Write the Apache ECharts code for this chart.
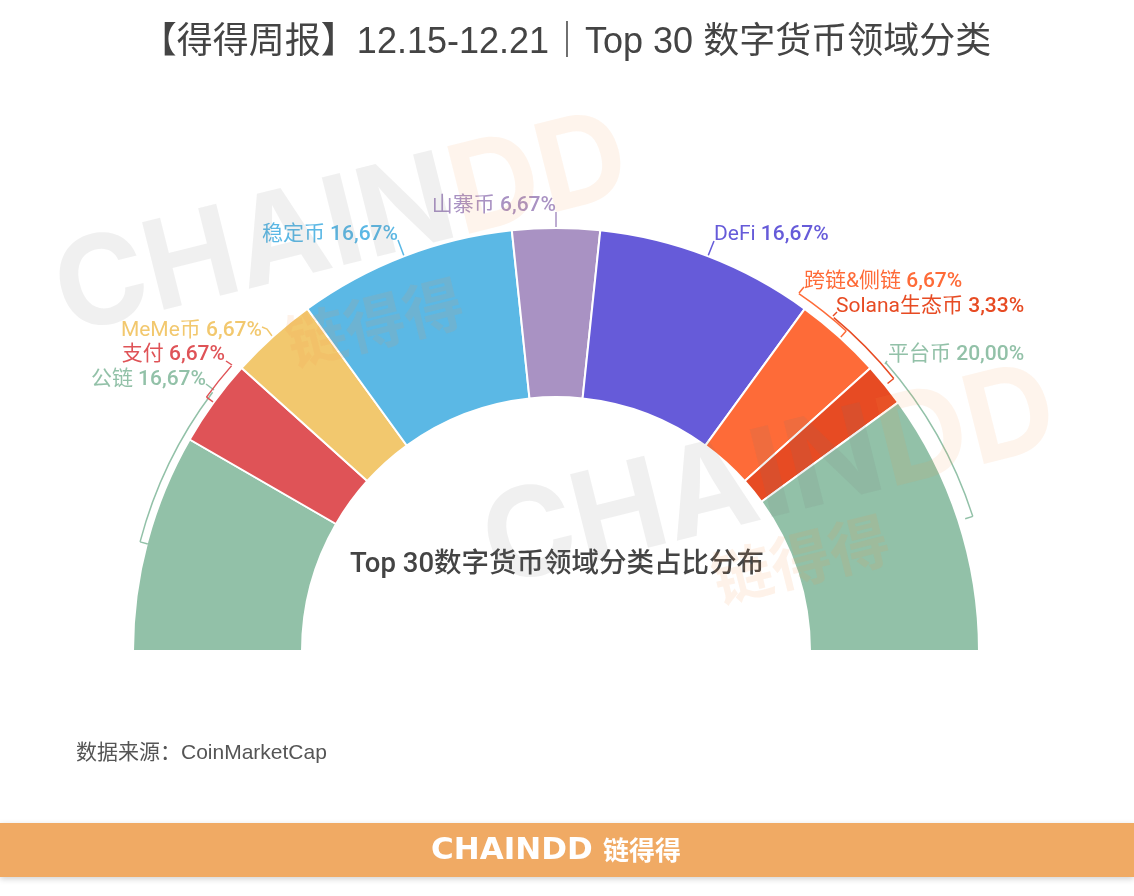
<!DOCTYPE html>
<html><head><meta charset="utf-8">
<style>html,body{margin:0;padding:0;background:#fff}#c{width:1134px;height:896px}</style>
<script src="https://cdn.jsdelivr.net/npm/echarts@6/dist/echarts.min.js"></script>
</head><body><div id="c"></div>
<script>
const categories = ['公链','支付','MeMe币','稳定币','山寨币','DeFi','跨链&侧链','Solana生态币','平台币'];
const shares = [16.67,6.67,6.67,16.67,6.67,16.67,6.67,3.33,20.00];
const colors = ['#92c1a8','#df5357','#f2c86e','#5bb8e5','#a992c3','#665bd9','#fe6b38','#e74b23','#92c1a8'];
const titleText = '【得得周报】12.15-12.21｜Top 30 数字货币领域分类';
const centerText = 'Top 30数字货币领域分类占比分布';
const sourceText = '数据来源：CoinMarketCap';
// label placement: [x, centre y, align]
const labelSpots = [[206,380,'right'],[225,355,'right'],[262,331,'right'],[398,235,'right'],[556,206,'right'],[714,235,'left'],[804,282,'left'],[836,307,'left'],[888,355,'left']];
const leaders = [
 [[206,384],[214,390]],[[226,361],[232,365]],[[262,327],[267,329],[272,336]],[[398,240],[404,256]],
 [[556,212],[556,228]],[[714,241],[708,256]],[[804,287],[799,293]],[[837,312],[833,316]],[[887,361],[885,364]]
];
// brackets outside the ring: colour index, radius, from angle, to angle, angle of the inner tick
const brackets = [
 [0,430,143,165.3,165.3],[1,432,138.7,144,144],[6,432,47.8,55.8,47.8],[7,434,38.9,50.2,38.9],[8,438,17.9,41.2,17.9]
];
const sans = 'Roboto, "Noto Sans CJK SC", sans-serif';
const font = '"Liberation Sans", "Noto Sans CJK SC", sans-serif';
const chart = echarts.init(document.getElementById('c'), null, {renderer:'canvas'});
const fmt = v => v.toFixed(2).replace('.',',') + '%';
const wmRich = (g,o) => ({
  a:{fill:'rgba(120,120,120,'+g+')',fontSize:124,fontWeight:'bold',fontFamily:'Inter, sans-serif'},
  b:{fill:'rgba(250,150,70,'+o+')',fontSize:124,fontWeight:'bold',fontFamily:'Inter, sans-serif'}
});
const rot = 14*Math.PI/180;
chart.setOption({
  animation:false,
  backgroundColor:'#fff',
  title:[
    {text:titleText,left:561,top:20,textAlign:'center',textStyle:{fontFamily:font,fontSize:36,fontWeight:'normal',color:'#444'}},
    {text:centerText,left:552,top:546,textAlign:'center',textStyle:{fontFamily:sans,fontSize:27.5,fontWeight:500,color:'#444'}},
    {text:sourceText,left:71,top:738,textStyle:{fontFamily:font,fontSize:21,fontWeight:'normal',color:'#555'}}
  ],
  polar:{center:[556,651],radius:500},
  radiusAxis:{show:false,min:0,max:500},
  angleAxis:{show:false,min:0,max:360,startAngle:0,clockwise:false},
  series:[
    {type:'pie',center:[556,651],radius:[254,423],startAngle:180,endAngle:0,clockwise:true,
     avoidLabelOverlap:false,minShowLabelAngle:0,silent:true,
     itemStyle:{borderColor:'#fff',borderWidth:2},
     data:categories.map((n,i)=>({name:n,value:shares[i],itemStyle:{color:colors[i]},label:{color:colors[i]},labelLine:{lineStyle:{color:colors[i]}}})),
     label:{show:true,position:'outside',fontFamily:sans,fontSize:21,
       formatter:p=>'{n|'+p.name+'} {v|'+fmt(p.value)+'}',
       rich:{n:{fontFamily:sans,fontSize:21,fontWeight:400},v:{fontFamily:sans,fontSize:21,fontWeight:500}}},
     labelLine:{show:true,lineStyle:{width:1.5}},
     labelLayout:p=>{const s=labelSpots[p.dataIndex];return {x:s[0],y:s[1],align:s[2],verticalAlign:'middle',labelLinePoints:leaders[p.dataIndex]};}
    },
    {type:'custom',coordinateSystem:'polar',silent:true,z:5,clip:false,
     data:brackets.map(b=>[b[1],b[2],b[3],b[0],b[4]]),
     encode:{radius:0,angle:1},
     renderItem:(params,api)=>{
       const r=api.value(0),a1=api.value(1),a2=api.value(2),col=colors[api.value(3)],t=api.value(4);
       const c=api.coord([0,0]);
       const inner=api.coord([r-8,t]),outer=api.coord([r,t]);
       const rPx=Math.hypot(outer[0]-c[0],outer[1]-c[1]);
       const st={stroke:col,fill:null,lineWidth:1.5};
       return {type:'group',children:[
         {type:'arc',shape:{cx:c[0],cy:c[1],r:rPx,startAngle:-a2*Math.PI/180,endAngle:-a1*Math.PI/180,clockwise:true},style:st},
         {type:'line',shape:{x1:outer[0],y1:outer[1],x2:inner[0],y2:inner[1]},style:st}
       ]};
     }}
  ],
  graphic:[
    {type:'text',z:100,silent:true,x:73,y:358,rotation:rot,style:{text:'{a|CHAIN}{b|DD}',rich:wmRich(.11,.1),verticalAlign:'bottom'}},
    {type:'text',z:100,silent:true,x:501,y:610,rotation:rot,style:{text:'{a|CHAIN}{b|DD}',rich:wmRich(.11,.1),verticalAlign:'bottom'}},
    {type:'text',z:100,silent:true,x:280,y:315,rotation:rot,style:{text:'链得得',fill:'rgba(250,150,70,.12)',fontSize:60,fontWeight:'bold',fontFamily:'"Noto Sans CJK SC"'}},
    {type:'text',z:100,silent:true,x:706,y:552,rotation:rot,style:{text:'链得得',fill:'rgba(250,150,70,.12)',fontSize:60,fontWeight:'bold',fontFamily:'"Noto Sans CJK SC"'}},
    {type:'rect',z:90,silent:true,shape:{x:0,y:823,width:1134,height:54},style:{fill:'#f0aa64',shadowBlur:6,shadowColor:'rgba(0,0,0,.18)',shadowOffsetY:2}},
    {type:'text',z:101,silent:true,x:431,y:851,style:{text:'CHAINDD',fill:'#fff',fontSize:31,fontWeight:'bold',fontFamily:'"DejaVu Sans", sans-serif',verticalAlign:'middle'}},
    {type:'text',z:101,silent:true,x:603,y:850,style:{text:'链得得',fill:'#fff',fontSize:26,fontWeight:'bold',fontFamily:'"Noto Sans CJK SC"',verticalAlign:'middle'}}
  ]
});
</script></body></html>
